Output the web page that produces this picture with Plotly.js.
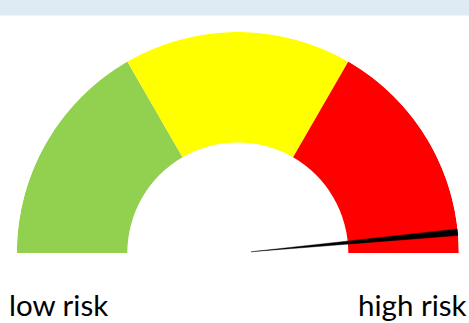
<!DOCTYPE html>
<html>
<head>
<meta charset="utf-8">
<script src="https://cdn.plot.ly/plotly-3.0.1.min.js"></script>
<style>
  html, body { margin: 0; padding: 0; background: #ffffff; overflow: hidden; }
  #gauge { width: 469px; height: 323px; }
</style>
</head>
<body>
<div id="gauge"></div>
<script>
// Risk bands on a 0-100 scale, drawn left (low) to right (high)
const bandNames  = ['low', 'medium', 'high'];
const bandFrom   = [0, 33.33, 66.67];
const bandTo     = [33.33, 66.67, 100];
const bandColors = ['#92D050', '#FFFF00', '#FF0000'];

// Current reading shown by the needle
const riskValue = 97;

// End labels under the dial
const scaleLabels = ['low risk', 'high risk'];

// 0 on the scale sits at 180 degrees (left), 100 at 0 degrees (right)
const toTheta = v => 180 * (1 - v / 100);

const bandTrace = {
  type: 'barpolar',
  name: 'bands',
  theta: bandFrom.map((f, i) => toTheta((f + bandTo[i]) / 2)),
  width: bandFrom.map((f, i) => (bandTo[i] - f) * 1.8),
  base: bandNames.map(() => 0.5),
  r: bandNames.map(() => 0.5),
  marker: { color: bandColors, line: { width: 0 } },
  hoverinfo: 'skip',
  showlegend: false
};

// Needle: a narrow wedge from near the hub out to the outer rim
const needleTheta = toTheta(riskValue);
const needleHalf = 0.85;
const needleTrace = {
  type: 'scatterpolar',
  mode: 'lines',
  r: [0.06, 1, 1, 0.06],
  theta: [needleTheta, needleTheta - needleHalf, needleTheta + needleHalf, needleTheta],
  fill: 'toself',
  fillcolor: '#000000',
  line: { color: '#000000', width: 0.4 },
  hoverinfo: 'skip',
  showlegend: false
};

const layout = {
  width: 469,
  height: 323,
  margin: { l: 0, r: 0, t: 0, b: 0 },
  paper_bgcolor: '#ffffff',
  font: { family: 'Lato, "Open Sans", sans-serif', color: '#000000' },
  polar: {
    domain: { x: [0.0358, 0.9783], y: [0.2167, 0.901] },
    sector: [0, 180],
    hole: 0,
    bgcolor: 'rgba(0,0,0,0)',
    radialaxis: { range: [0, 1], visible: false, showgrid: false },
    angularaxis: { visible: false, showgrid: false, rotation: 0, direction: 'counterclockwise' }
  },
  shapes: [
    {
      type: 'rect', xref: 'paper', yref: 'paper',
      x0: 0, x1: 1, y0: 1 - 15.5 / 323, y1: 1,
      fillcolor: '#DEEAF4', line: { width: 0 }, layer: 'below'
    }
  ],
  annotations: [
    {
      text: scaleLabels[0], xref: 'paper', yref: 'paper',
      x: 0.015, y: 0.056, xanchor: 'left', yanchor: 'middle',
      showarrow: false, font: { size: 29.5 }
    },
    {
      text: scaleLabels[1], xref: 'paper', yref: 'paper',
      x: 0.998, y: 0.056, xanchor: 'right', yanchor: 'middle',
      showarrow: false, font: { size: 29.5 }
    }
  ]
};

Plotly.newPlot('gauge', [bandTrace, needleTrace], layout, { displayModeBar: false, staticPlot: true });
</script>
</body>
</html>
